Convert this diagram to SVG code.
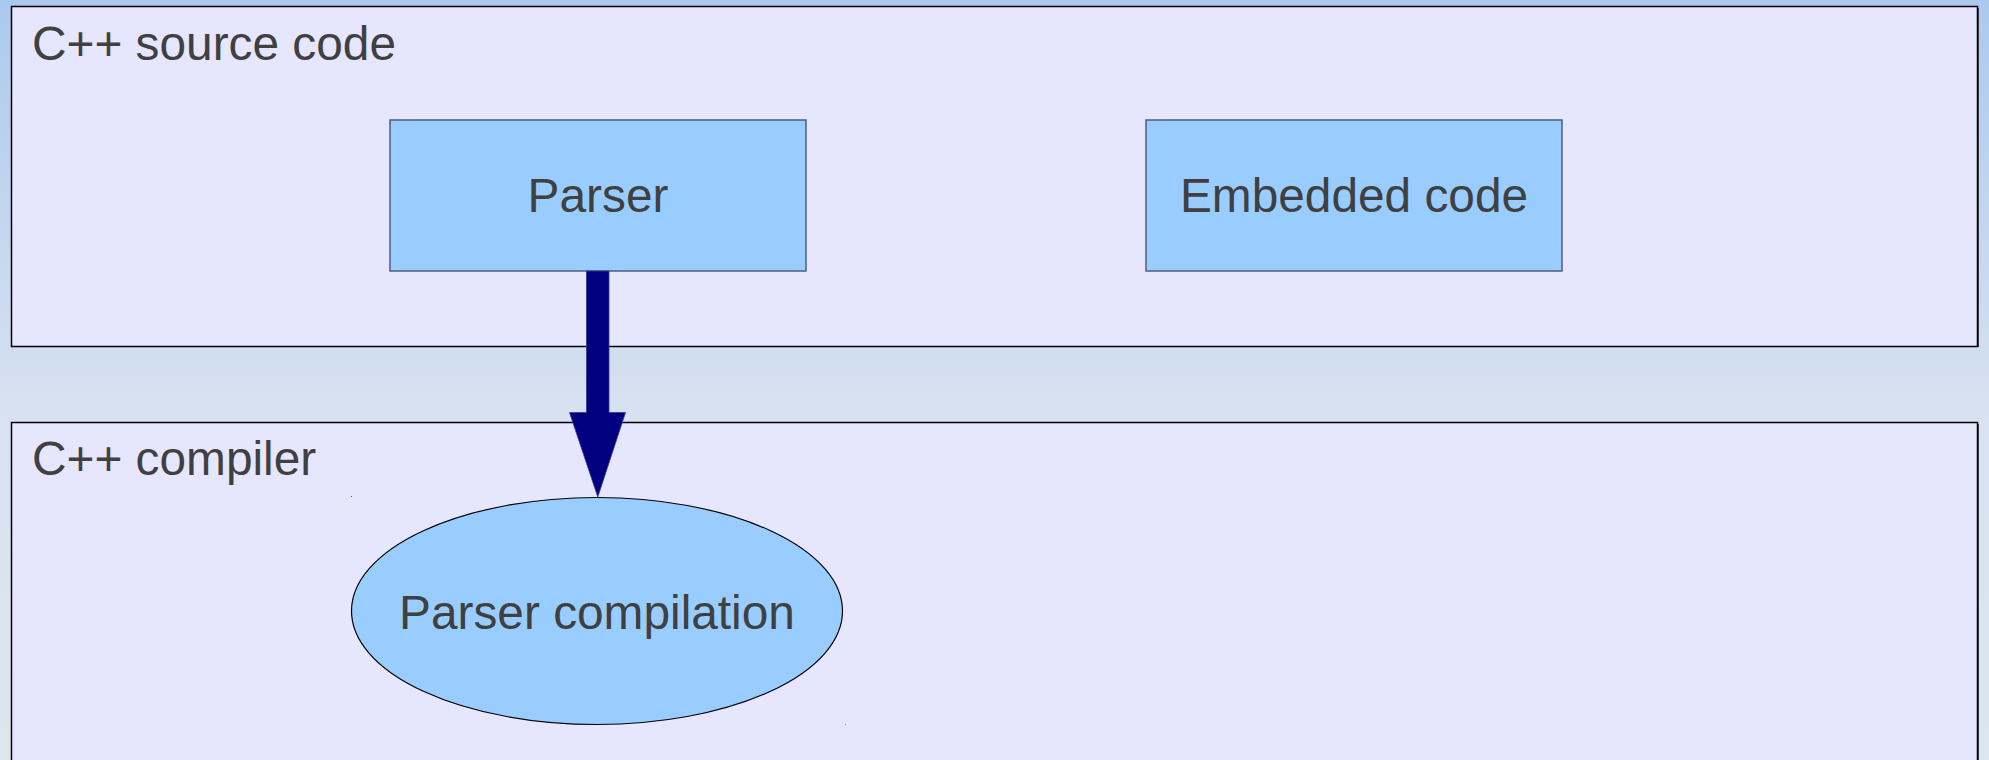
<svg xmlns="http://www.w3.org/2000/svg" width="1989" height="760" viewBox="0 0 1989 760">
  <defs>
    <linearGradient id="bg" x1="0" y1="0" x2="0" y2="1">
      <stop offset="0" stop-color="#abc9ee"/>
      <stop offset="0.55" stop-color="#d8e2f1"/>
      <stop offset="1" stop-color="#dde5ef"/>
    </linearGradient>
    <style>
      .frame { fill: #e6e6ff; stroke: #000; stroke-width: 1.5; }
      .shadow { fill: #4a4a5a; }
      .box { fill: #99ccff; stroke: #4f5f78; stroke-width: 1.5; }
      .oval { fill: #99ccff; stroke: #000; stroke-width: 1.2; }
      .title { font-family: "Liberation Sans", Arial, sans-serif; font-size: 47.8px; fill: #404040; }
      .label { font-family: "Liberation Sans", Arial, sans-serif; font-size: 47.8px; fill: #404040; text-anchor: middle; }
      .flow { fill: #000080; stroke: #3a3a8a; stroke-width: 0.8; }
    </style>
  </defs>

  <!-- page background -->
  <rect x="0" y="0" width="1989" height="760" fill="url(#bg)"/>

  <!-- source code layer -->
  <g id="source-layer">
    <rect class="shadow" x="1977" y="8" width="2" height="339"/>
    <rect class="frame" x="11.5" y="6.5" width="1966" height="340"/>
    <text class="title" x="32" y="60">C++ source code</text>
  </g>

  <!-- compiler layer -->
  <g id="compiler-layer">
    <rect class="shadow" x="1977" y="424" width="2" height="340"/>
    <rect class="frame" x="11.5" y="422.5" width="1966" height="360"/>
    <text class="title" x="32" y="475">C++ compiler</text>
  </g>

  <g id="parser">
    <rect class="box" x="390" y="120" width="416" height="151"/>
    <text class="label" x="598" y="211.5">Parser</text>
  </g>

  <g id="embedded-code">
    <rect class="box" x="1146" y="120" width="416" height="151"/>
    <text class="label" x="1354" y="211.5">Embedded code</text>
  </g>

  <g id="parser-compilation">
    <ellipse class="oval" cx="597" cy="611" rx="245.5" ry="113.5"/>
    <text class="label" x="597" y="629">Parser compilation</text>
    <!-- bounding corner marks -->
    <rect x="351" y="496" width="1" height="1" fill="#555"/>
    <rect x="845" y="724" width="1" height="1" fill="#888"/>
  </g>

  <!-- connectors -->
  <g id="connectors">
    <path class="flow" d="M586.5 271 H609 V412.5 H625.5 L597.8 497 L569.5 412.5 H586.5 Z"/>
  </g>
</svg>
